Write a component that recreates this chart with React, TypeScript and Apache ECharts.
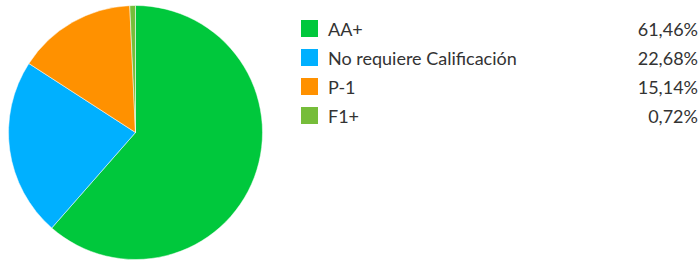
import React, { useEffect, useRef } from "react";
import * as echarts from "echarts";

const categories = ["AA+", "No requiere Calificación", "P-1", "F1+"];
const values = [61.46, 22.68, 15.14, 0.72];
const valueLabels = ["61,46%", "22,68%", "15,14%", "0,72%"];
const colors = ["#00C83C", "#00B0FF", "#FF9100", "#76BD3A"];

export default function App() {
  const ref = useRef<HTMLDivElement>(null);
  useEffect(() => {
    if (!ref.current) return;
    const chart = echarts.init(ref.current, undefined, { renderer: "svg" });
    const data = categories.map((name, i) => ({
      name,
      value: values[i],
      itemStyle: { color: colors[i] },
    }));
    chart.setOption({
      animation: false,
      color: colors,
      textStyle: { fontFamily: "Lato" },
      legend: {
        orient: "vertical",
        left: 299,
        top: 18,
        itemWidth: 19,
        itemHeight: 19,
        itemGap: 8,
        icon: "rect",
        padding: 0,
        selectedMode: false,
        data: categories,
        formatter: (name: string) => {
          const i = categories.indexOf(name);
          return `{a|${name}}{b|${valueLabels[i]}}`;
        },
        textStyle: {
          fontFamily: "Lato",
          fontSize: 18,
          color: "#333333",
          rich: {
            a: { width: 300, fontFamily: "Lato", fontSize: 18, color: "#333333", padding: [0, 0, 0, 4] },
            b: { width: 70, align: "right", fontFamily: "Lato", fontSize: 18, color: "#333333" },
          },
        },
      },
      series: [
        {
          type: "pie",
          center: [135.5, 132.5],
          radius: 127,
          startAngle: 90,
          clockwise: true,
          label: { show: false },
          labelLine: { show: false },
          itemStyle: { borderColor: "#ffffff", borderWidth: 0.5 },
          emphasis: { disabled: true },
          data,
        },
      ],
    });
    return () => chart.dispose();
  }, []);
  return (
    <div
      ref={ref}
      style={{ position: "fixed", left: 0, top: 0, width: 699, height: 262, background: "#ffffff" }}
    />
  );
}
